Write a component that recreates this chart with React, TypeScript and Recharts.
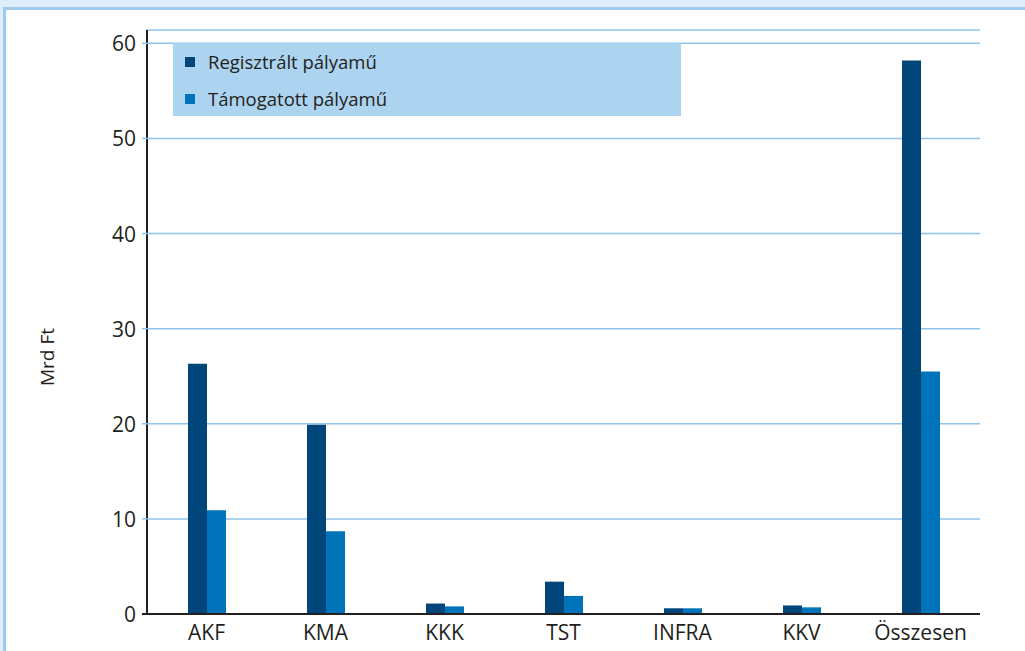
import React from 'react';
import { BarChart, Bar, XAxis, YAxis, CartesianGrid, Legend } from 'recharts';

const categories = ['AKF', 'KMA', 'KKK', 'TST', 'INFRA', 'KKV', 'Összesen'];
const registered = [26.3, 19.9, 1.1, 3.4, 0.6, 0.9, 58.2];
const supported = [10.9, 8.7, 0.8, 1.9, 0.6, 0.7, 25.5];
const yTicks = [0, 10, 20, 30, 40, 50, 60];
const seriesNames = ['Regisztrált pályamű', 'Támogatott pályamű'];

const data = categories.map((c, i) => ({ name: c, reg: registered[i], tam: supported[i] }));

const REG = '#00467a';
const TAM = '#0073bb';
const GRID = '#8ec4ea';
const AXIS = '#231f20';
const FONT = '"Open Sans", "DejaVu Sans", sans-serif';

const LegendBox = () => (
  <div style={{ width: '100%', height: '100%', background: '#acd3ef', fontFamily: FONT, fontSize: 18.5, color: '#231f20', boxSizing: 'border-box', paddingLeft: 12, paddingTop: 0 }}>
    {[REG, TAM].map((col, i) => (
      <div key={i} style={{ display: 'flex', alignItems: 'center', height: 37 }}>
        <span style={{ display: 'inline-block', width: 10, height: 10, background: col, marginRight: 13 }} />
        <span>{seriesNames[i]}</span>
      </div>
    ))}
  </div>
);

const YLabel = () => (
  <text x={47} y={357} transform="rotate(-90 47 357)" textAnchor="middle" dominantBaseline="central" fontFamily={FONT} fontSize={19} fill="#231f20">Mrd Ft</text>
);

const YTick = (props: any) => {
  const { x, y, payload } = props;
  const isZero = payload.value === 0;
  return (
    <g>
      <line x1={x + 7} x2={x + 13} y1={y} y2={y} stroke={isZero ? AXIS : GRID} strokeWidth={isZero ? 2 : 1.5} />
      <text x={x + 1} y={y} textAnchor="end" dominantBaseline="central" fontFamily={FONT} fontSize={21} fill="#231f20">{payload.value}</text>
    </g>
  );
};

export default function App() {
  return (
    <div style={{ position: 'absolute', left: 0, top: 0, width: 1025, height: 651, background: '#deedf9', overflow: 'hidden' }}>
      <div style={{ position: 'absolute', left: 3, top: 7, width: 1100, height: 700, background: '#fff', borderTop: '3px solid #9ccbee', borderLeft: '3px solid #9ccbee' }} />
      <div style={{ position: 'absolute', left: 0, top: 0 }}>
        <BarChart width={1025} height={651} data={data} margin={{ top: 30, right: 45, left: 0, bottom: 0 }} barGap={0} barSize={19}>
          <CartesianGrid horizontal vertical={false} stroke={GRID} strokeWidth={1.5} />
          <XAxis dataKey="name" height={37} tickLine={false} tickSize={0} tickMargin={11} axisLine={{ stroke: AXIS, strokeWidth: 2 }} tick={{ fontFamily: FONT, fontSize: 21, fill: '#231f20' }} interval={0} />
          <YAxis width={147} domain={[0, 61.4]} ticks={yTicks} allowDataOverflow tickSize={6} tickMargin={6} tickLine={false} axisLine={{ stroke: AXIS, strokeWidth: 2 }} tick={<YTick />} label={<YLabel />} />
          <Legend layout="horizontal" verticalAlign="middle" content={<LegendBox />} wrapperStyle={{ left: 173, top: 43, width: 508, height: 73 }} />
          <Bar dataKey="reg" name={seriesNames[0]} fill={REG} isAnimationActive={false} />
          <Bar dataKey="tam" name={seriesNames[1]} fill={TAM} isAnimationActive={false} />
        </BarChart>
      </div>
    </div>
  );
}
